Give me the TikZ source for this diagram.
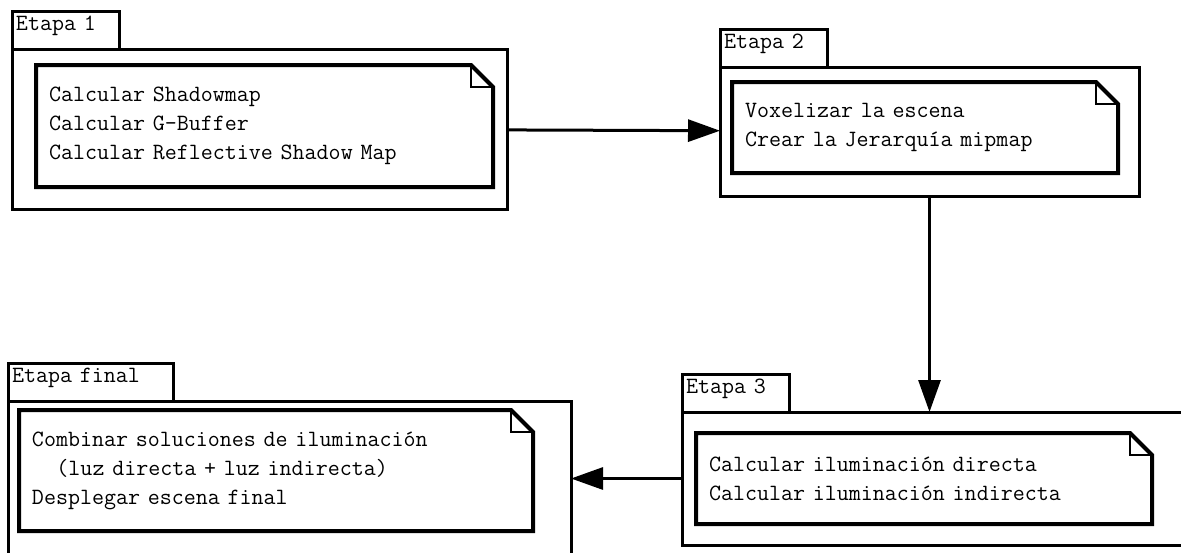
\documentclass[tikz,border=0pt]{standalone}
\usepackage{fontspec}
\usetikzlibrary{positioning,arrows.meta}

\begin{document}
\begin{tikzpicture}[x=0.5pt, y=-0.5pt, every node/.style={font=\ttfamily\fontsize{11.66pt}{14.5pt}\selectfont, outer sep=0pt},
    pkg/.style={rectangle, draw, line width=1.5pt, anchor=north west, inner sep=0pt},
    tab/.style={rectangle, draw, line width=1.5pt, align=left, text width=#1, inner xsep=2pt, inner ysep=3pt, text height=6.5pt, text depth=6.5pt},
    notebox/.style={rectangle, anchor=north west, align=left, inner xsep=6.5pt, inner ysep=0pt},
    notel/.style={line width=2pt, line join=miter},
    flow/.style={line width=1.5pt, -{Triangle[length=16pt, width=11pt]}}]
    \useasboundingbox (0,0) rectangle (1181,552);

    \node [pkg, minimum width=247.5pt, minimum height=80pt] (p1) at (12,49) {};
    \node [tab=49.5pt, above right=0pt of p1.north west] (t1) {Etapa 1};
    \node [notebox, text width=215.5pt, minimum height=61pt] (n1) at (36,65) {Calcular Shadowmap\\Calcular G-Buffer\\Calcular Reflective Shadow Map};

    \node [pkg, minimum width=209.5pt, minimum height=64.5pt] (p2) at (720,67) {};
    \node [tab=49.5pt, above right=0pt of p2.north west] (t2) {Etapa 2};
    \node [notebox, text width=180pt, minimum height=45.5pt] (n2) at (732,82) {Voxelizar la escena\\Crear la Jerarquía mipmap};

    \node [pkg, minimum width=260pt, minimum height=66.5pt] (p3) at (682,412) {};
    \node [tab=49.5pt, above right=0pt of p3.north west] (t3) {Etapa 3};
    \node [notebox, text width=215pt, minimum height=45.5pt] (n3) at (696,433) {Calcular iluminación directa\\Calcular iluminación indirecta};

    \node [pkg, minimum width=281.5pt, minimum height=85pt] (pf) at (8,401) {};
    \node [tab=78.5pt, above right=0pt of pf.north west] (tf) {Etapa final};
    \node [notebox, text width=244pt, minimum height=60.5pt] (nf) at (19,410) {Combinar soluciones de iluminación\\\hspace*{12.24pt}(luz directa + luz indirecta)\\Desplegar escena final};

    \foreach \n in {n1,n2,n3,nf} {
        \draw [notel] (\n.north west) -- ([xshift=-11pt]\n.north east) -- ([yshift=-11pt]\n.north east) -- (\n.south east) -- (\n.south west) -- cycle;
        \draw [line width=0.6pt] ([xshift=-11pt]\n.north east) |- ([yshift=-11pt]\n.north east);
    }

    \draw [flow] (p1) -- (p2);
    \draw [flow] (p2.south) -- (p2.south |- p3.north);
    \draw [flow] (p3.west) -- (p3.west -| pf.east);
\end{tikzpicture}
\end{document}
